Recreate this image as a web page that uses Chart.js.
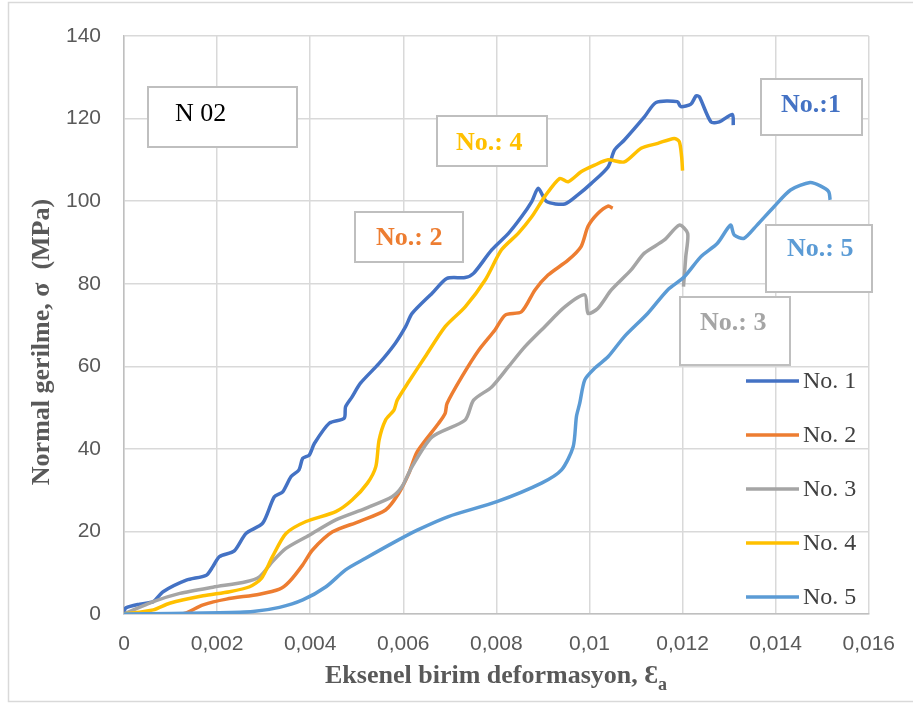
<!DOCTYPE html>
<html>
<head>
<meta charset="utf-8">
<script src="https://cdn.jsdelivr.net/npm/chart.js@4"></script>
<style>
  body { margin: 0; background: #fff; }
  canvas { display: block; }
</style>
</head>
<body>
<canvas id="chart" width="913" height="705"></canvas>
<script>
// series names / colours
const seriesNames = ['No. 1', 'No. 2', 'No. 3', 'No. 4', 'No. 5'];
const seriesColors = ['#4472C4', '#ED7D31', '#A5A5A5', '#FFC000', '#5B9BD5'];

// No. 1 (strain, MPa)
const no1X = [0, 0.00004, 0.00034, 0.00063, 0.00084, 0.00134, 0.00177, 0.00191, 0.00205, 0.00237, 0.00262, 0.00298, 0.00323, 0.00341, 0.00359, 0.00376, 0.00384, 0.00398, 0.00409, 0.00441, 0.00473, 0.00476, 0.00490, 0.00508, 0.00548, 0.00583, 0.00605, 0.00619, 0.00662, 0.00694, 0.00733, 0.00751, 0.00790, 0.00826, 0.00854, 0.00876, 0.00890, 0.00908, 0.00947, 0.00975, 0.01004, 0.01040, 0.01054, 0.01075, 0.01118, 0.01143, 0.01189, 0.01196, 0.01218, 0.01229, 0.01236, 0.01261, 0.01279, 0.01307, 0.01309];
const no1Y = [0.5, 1.5, 2.4, 3.0, 5.4, 8.2, 9.4, 11.5, 13.9, 15.3, 19.5, 22.0, 28.4, 29.6, 33.3, 34.9, 37.7, 38.5, 41.3, 46.2, 47.4, 50.2, 52.6, 55.9, 60.7, 65.6, 69.6, 72.8, 77.7, 81.3, 81.5, 82.5, 88.2, 92.2, 96.2, 99.9, 103.1, 99.9, 99.3, 101.5, 104.3, 108.3, 112.4, 114.8, 120.4, 123.9, 124.1, 122.9, 123.5, 125.5, 125.3, 119.2, 119.2, 121.0, 118.4];

// No. 2
const no2X = [0, 0.0012, 0.00134, 0.00170, 0.00220, 0.00291, 0.00334, 0.00355, 0.00384, 0.00405, 0.00448, 0.00505, 0.00562, 0.00590, 0.00612, 0.00630, 0.00676, 0.00690, 0.00694, 0.00726, 0.00762, 0.00797, 0.00819, 0.00854, 0.00883, 0.00911, 0.00954, 0.00982, 0.00997, 0.01018, 0.01040, 0.01050];
const no2Y = [0, 0, 0.3, 2.2, 3.6, 4.8, 6.0, 7.8, 11.9, 15.5, 19.9, 22.4, 25.2, 29.2, 34.1, 39.3, 46.2, 48.6, 51.0, 57.5, 63.9, 68.8, 72.4, 73.2, 78.5, 82.1, 85.7, 89.0, 93.9, 97.0, 98.8, 98.3];

// No. 3
const no3X = [0, 0.00063, 0.00120, 0.00191, 0.00262, 0.00291, 0.00319, 0.00348, 0.00398, 0.00455, 0.00519, 0.00576, 0.00597, 0.00619, 0.00662, 0.00733, 0.00751, 0.00790, 0.00826, 0.00861, 0.00904, 0.00947, 0.00990, 0.00997, 0.01018, 0.01047, 0.01089, 0.01118, 0.01161, 0.01193, 0.01211, 0.01207, 0.01202];
const no3Y = [0, 3.0, 5.0, 6.5, 7.8, 9.0, 12.7, 15.9, 19.1, 22.8, 25.6, 28.4, 30.8, 35.7, 42.9, 47.0, 51.8, 55.0, 59.9, 64.7, 69.6, 74.4, 77.3, 72.8, 74.0, 78.5, 83.3, 87.4, 90.6, 94.2, 92.2, 86.6, 79.3];

// No. 4
const no4X = [0, 0.00063, 0.00098, 0.00170, 0.00227, 0.00270, 0.00295, 0.00319, 0.00348, 0.00391, 0.00455, 0.00490, 0.00523, 0.00541, 0.00548, 0.00562, 0.00580, 0.00587, 0.00612, 0.00647, 0.00690, 0.00733, 0.00776, 0.00811, 0.00847, 0.00876, 0.00904, 0.00936, 0.00954, 0.00982, 0.01011, 0.01040, 0.01075, 0.01111, 0.01147, 0.01182, 0.01193, 0.01198, 0.01200];
const no4Y = [0, 1.0, 2.6, 4.4, 5.4, 6.6, 8.6, 13.9, 19.5, 22.4, 24.8, 27.6, 31.7, 35.7, 42.1, 47.0, 49.4, 51.8, 56.3, 62.3, 69.6, 74.4, 80.9, 88.2, 92.2, 96.2, 101.1, 105.5, 104.7, 107.1, 108.7, 110.0, 109.5, 112.8, 114.0, 115.2, 114.4, 110.8, 107.4];

// No. 5
const no5X = [0, 0.00205, 0.00277, 0.00334, 0.00384, 0.00434, 0.00476, 0.00519, 0.00576, 0.00630, 0.00697, 0.00801, 0.00897, 0.00940, 0.00965, 0.00972, 0.00979, 0.00990, 0.01011, 0.01040, 0.01075, 0.01125, 0.01168, 0.01204, 0.01239, 0.01275, 0.01303, 0.01311, 0.01332, 0.01360, 0.01396, 0.01432, 0.01474, 0.01496, 0.01514, 0.01517];
const no5Y = [0, 0.3, 0.6, 1.6, 3.4, 6.6, 10.7, 13.5, 17.1, 20.3, 23.6, 27.2, 31.7, 34.9, 40.5, 47.8, 51.0, 56.7, 59.5, 62.3, 67.2, 72.8, 78.5, 81.7, 86.5, 89.8, 94.2, 91.8, 91.0, 94.2, 98.6, 102.7, 104.5, 103.7, 102.3, 100.3];

// axis ticks
const xTicks = [0, 0.002, 0.004, 0.006, 0.008, 0.01, 0.012, 0.014, 0.016];
const yTicks = [0, 20, 40, 60, 80, 100, 120, 140];

const allX = [no1X, no2X, no3X, no4X, no5X];
const allY = [no1Y, no2Y, no3Y, no4Y, no5Y];

// text boxes on the plot: label, colour, bold, box [x, y, w, h], text x, text middle y
const boxes = [
	['N 02', '#000000', false, [148, 87, 149, 60], 175, 114],
	['No.: 2', '#ED7D31', true, [355, 212, 108, 50], 376, 238],
	['No.: 4', '#FFC000', true, [437, 116, 110, 50], 456, 143],
	['No.:1', '#4472C4', true, [761, 79, 101, 56], 781, 105],
	['No.: 5', '#5B9BD5', true, [766, 225, 106, 67], 787, 249],
	['No.: 3', '#A5A5A5', true, [680, 297, 110, 68], 700, 323]
];

const extrasPlugin = {
	id: 'extras',
	beforeDraw(chart) {
		const ctx = chart.ctx;
		ctx.save();
		ctx.fillStyle = '#fff';
		ctx.fillRect(0, 0, chart.width, chart.height);
		ctx.strokeStyle = '#d9d9d9';
		ctx.lineWidth = 1.5;
		ctx.strokeRect(8.5, 2.5, 920, 699);
		ctx.restore();
	},
	beforeDatasetsDraw(chart) {
		const ctx = chart.ctx;
		ctx.save();
		boxes.forEach(b => {
			const r = b[3];
			ctx.fillStyle = '#fff';
			ctx.fillRect(r[0], r[1], r[2], r[3]);
			ctx.strokeStyle = '#bfbfbf';
			ctx.lineWidth = 2;
			ctx.strokeRect(r[0], r[1], r[2], r[3]);
			ctx.fillStyle = b[1];
			ctx.font = (b[2] ? 'bold ' : '') + '26px "Liberation Serif"';
			ctx.textAlign = 'left';
			ctx.textBaseline = 'middle';
			ctx.fillText(b[0], b[4], b[5]);
		});
		ctx.restore();
	},
	afterDatasetsDraw(chart) {
		const ctx = chart.ctx;
		ctx.save();
		// legend
		seriesNames.forEach((name, i) => {
			const y = 381 + i * 54;
			ctx.strokeStyle = seriesColors[i];
			ctx.lineWidth = 3.5;
			ctx.beginPath();
			ctx.moveTo(746, y);
			ctx.lineTo(799, y);
			ctx.stroke();
			ctx.fillStyle = '#404040';
			ctx.font = '24px "Liberation Serif"';
			ctx.textAlign = 'left';
			ctx.textBaseline = 'middle';
			ctx.fillText(name, 803, y + 1);
		});
		// axis titles
		ctx.fillStyle = '#595959';
		ctx.font = 'bold 26px "Liberation Serif"';
		ctx.textBaseline = 'alphabetic';
		const main = 'Eksenel birim deformasyon, Ɛ';
		const w1 = ctx.measureText(main).width;
		ctx.font = 'bold 18px "Liberation Serif"';
		const w2 = ctx.measureText('a').width;
		let x0 = 496 - (w1 + w2) / 2;
		ctx.font = 'bold 26px "Liberation Serif"';
		ctx.textAlign = 'left';
		ctx.fillText(main, x0, 683);
		ctx.font = 'bold 18px "Liberation Serif"';
		ctx.fillText('a', x0 + w1, 690);

		ctx.translate(42, 342);
		ctx.rotate(-Math.PI / 2);
		ctx.font = 'bold 26px "Liberation Serif"';
		ctx.textAlign = 'center';
		ctx.textBaseline = 'middle';
		ctx.fillText('Normal gerilme, σ  (MPa)', 0, 0);
		ctx.restore();
	}
};

const datasets = seriesNames.map((name, i) => ({
	label: name,
	data: allX[i].map((x, j) => ({ x: x, y: allY[i][j] })),
	borderColor: seriesColors[i],
	backgroundColor: seriesColors[i],
	borderWidth: 3.5,
	showLine: true,
	pointRadius: 0,
	tension: 0.25,
	fill: false,
	order: 5 - i
}));

new Chart(document.getElementById('chart').getContext('2d'), {
	type: 'scatter',
	data: { datasets: datasets },
	options: {
		responsive: false,
		animation: false,
		devicePixelRatio: 1,
		layout: { padding: { left: 0, top: 36, right: 41, bottom: 0 } },
		plugins: {
			legend: { display: false },
			tooltip: { enabled: false }
		},
		scales: {
			x: {
				type: 'linear',
				min: 0,
				max: 0.016,
				afterFit: s => { s.height = 91; },
				afterBuildTicks: s => { s.ticks = xTicks.map(v => ({ value: v })); },
				grid: { color: '#d9d9d9', lineWidth: 1.5, drawTicks: false },
				border: { color: '#bfbfbf', width: 1.5 },
				ticks: {
					padding: 18,
					color: '#595959',
					font: { family: 'Liberation Sans', size: 21 },
					callback: v => String(Number(v.toFixed(3))).replace('.', ',')
				}
			},
			y: {
				min: 0,
				max: 140,
				afterFit: s => { s.width = 124; },
				afterBuildTicks: s => { s.ticks = yTicks.map(v => ({ value: v })); },
				grid: { color: '#d9d9d9', lineWidth: 1.5, drawTicks: false },
				border: { color: '#bfbfbf', width: 1.5 },
				ticks: {
					padding: 23,
					color: '#595959',
					font: { family: 'Liberation Sans', size: 21 }
				}
			}
		}
	},
	plugins: [extrasPlugin]
});
</script>
</body>
</html>
